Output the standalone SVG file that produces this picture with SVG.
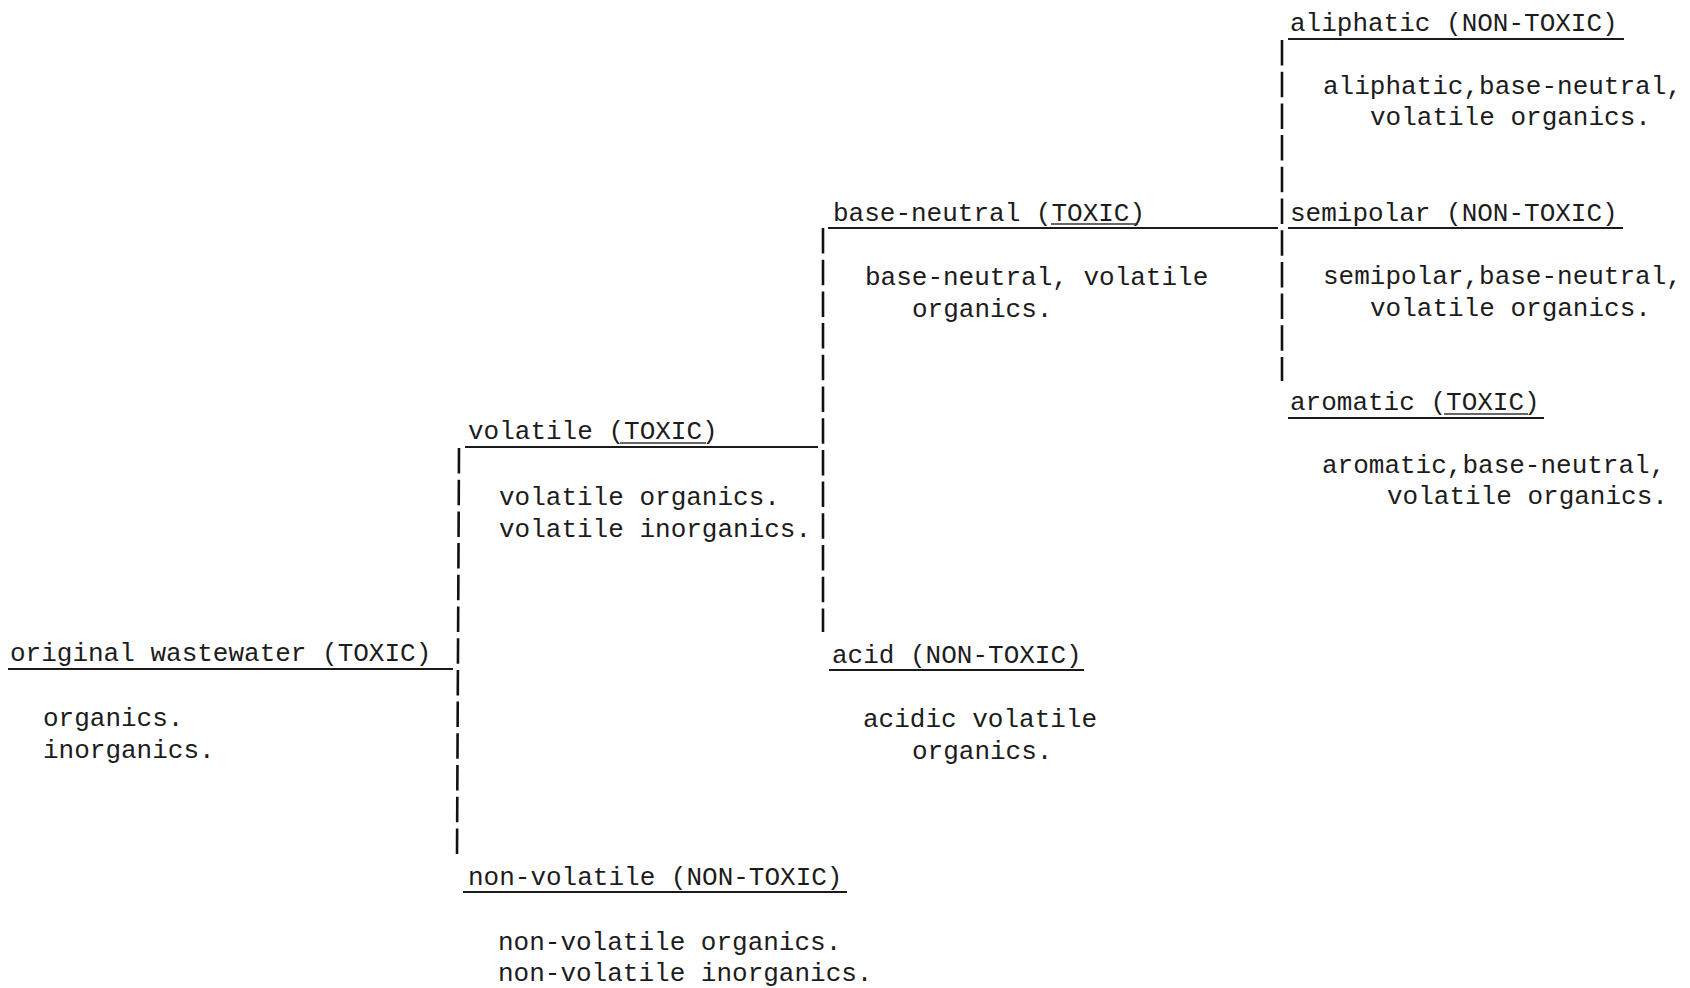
<svg xmlns="http://www.w3.org/2000/svg" width="1690" height="988" viewBox="0 0 1690 988">
<style>
text { font-family: "Liberation Mono", "Courier New", monospace; font-size: 26px; fill: #1c1c1c; }
.ul { stroke: #1a1a1a; stroke-width: 2.2; fill: none; }
.sub { stroke: #333; stroke-width: 1.4; fill: none; }
.vl { stroke: #111; stroke-width: 2.6; fill: none; stroke-dasharray: 25.5 6.2; }
</style>
<rect x="0" y="0" width="1690" height="988" fill="#ffffff"/>
<g id="connectors">
  <line class="vl" x1="459" y1="448" x2="457" y2="855"/>
  <line class="vl" x1="823" y1="228" x2="823" y2="632"/>
  <line class="vl" x1="1282" y1="40" x2="1282" y2="381"/>
</g>
<g id="original">
  <text x="10" y="661">original wastewater (TOXIC)</text>
  <line class="ul" x1="8" y1="669" x2="453" y2="669"/>
  <text x="43" y="726">organics.</text>
  <text x="43" y="758">inorganics.</text>
</g>
<g id="volatile">
  <text x="468" y="439">volatile (TOXIC)</text>
  <line class="sub" x1="620" y1="443" x2="706" y2="443"/>
  <line class="ul" x1="465" y1="447" x2="818" y2="447"/>
  <text x="499" y="505">volatile organics.</text>
  <text x="499" y="537">volatile inorganics.</text>
</g>
<g id="nonvolatile">
  <text x="468" y="885">non-volatile (NON-TOXIC)</text>
  <line class="ul" x1="463" y1="892" x2="847" y2="892"/>
  <text x="498" y="950">non-volatile organics.</text>
  <text x="498" y="981">non-volatile inorganics.</text>
</g>
<g id="baseneutral">
  <text x="833" y="221">base-neutral (TOXIC)</text>
  <line class="sub" x1="1051" y1="224" x2="1138" y2="224"/>
  <line class="ul" x1="828" y1="228" x2="1278" y2="228"/>
  <text x="865" y="285">base-neutral, volatile</text>
  <text x="912" y="317">organics.</text>
</g>
<g id="acid">
  <text x="832" y="663">acid (NON-TOXIC)</text>
  <line class="ul" x1="829" y1="670" x2="1084" y2="670"/>
  <text x="863" y="727">acidic volatile</text>
  <text x="912" y="759">organics.</text>
</g>
<g id="aliphatic">
  <text x="1290" y="31">aliphatic (NON-TOXIC)</text>
  <line class="ul" x1="1288" y1="39" x2="1624" y2="39"/>
  <text x="1323" y="94">aliphatic,base-neutral,</text>
  <text x="1370" y="125">volatile organics.</text>
</g>
<g id="semipolar">
  <text x="1290" y="221">semipolar (NON-TOXIC)</text>
  <line class="ul" x1="1288" y1="228" x2="1623" y2="228"/>
  <text x="1323" y="284">semipolar,base-neutral,</text>
  <text x="1370" y="316">volatile organics.</text>
</g>
<g id="aromatic">
  <text x="1290" y="410">aromatic (TOXIC)</text>
  <line class="sub" x1="1444" y1="414" x2="1528" y2="414"/>
  <line class="ul" x1="1288" y1="418" x2="1544" y2="418"/>
  <text x="1322" y="473">aromatic,base-neutral,</text>
  <text x="1387" y="504">volatile organics.</text>
</g>
</svg>
